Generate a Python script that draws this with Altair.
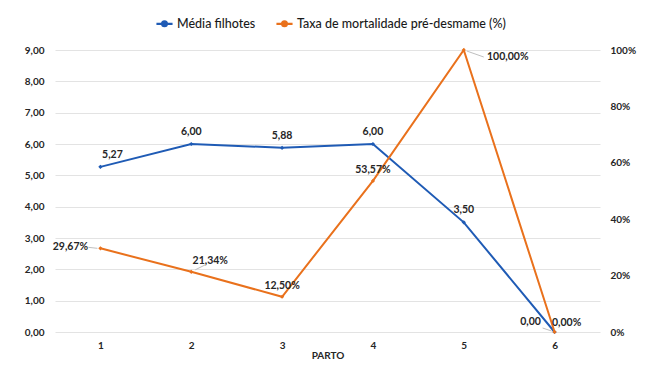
import altair as alt
import pandas as pd

partos = ["1", "2", "3", "4", "5", "6"]
media_filhotes = [5.27, 6.00, 5.88, 6.00, 3.50, 0.00]
mortalidade = [0.2967, 0.2134, 0.1250, 0.5357, 1.0000, 0.0000]
series = ["Média filhotes", "Taxa de mortalidade pré-desmame (%)"]
colors = ["#1F5BB5", "#E9711C"]
left_ticks = [0, 1, 2, 3, 4, 5, 6, 7, 8, 9]
right_ticks = [0, 0.2, 0.4, 0.6, 0.8, 1.0]

FONT = "Lato"
TXT = "#262626"

df_a = pd.DataFrame({"parto": partos, "v": media_filhotes, "serie": series[0]})
df_b = pd.DataFrame({"parto": partos, "v": mortalidade, "serie": series[1]})

x = alt.X("parto:O", sort=partos,
          scale=alt.Scale(type="point", padding=0.5),
          axis=alt.Axis(title="PARTO", labelAngle=0, domain=False, ticks=False,
                        labelPadding=8, titlePadding=0, labelFontSize=10,
                        titleFontSize=10, labelFontWeight="bold", titleFontWeight="bold",
                        labelColor=TXT, titleColor=TXT, labelFont=FONT, titleFont=FONT))
color = alt.Color("serie:N", scale=alt.Scale(domain=series, range=colors),
                  legend=alt.Legend(title=None, orient="none", direction="horizontal",
                                    legendX=100, legendY=-36, labelLimit=400,
                                    symbolType="M-1,0H1M-0.3,0A0.3,0.3,0,1,1,0.3,0A0.3,0.3,0,1,1,-0.3,0Z",
                                    symbolSize=260, symbolStrokeWidth=2.2,
                                    labelFont=FONT, labelFontSize=12.5, labelColor="#1A1A1A",
                                    labelFontWeight=500, columnPadding=16,
                                    symbolOffset=0, labelOffset=3))

ya = alt.Y("v:Q", scale=alt.Scale(domain=[0, 9], nice=False),
           axis=alt.Axis(title=None, values=left_ticks, domain=False, ticks=False,
                         labelExpr="replace(format(datum.value, '.2f'), '.', ',')",
                         labelPadding=11, gridColor="#E3E3E3", labelFontSize=10,
                         labelFontWeight="bold", labelColor=TXT, labelFont=FONT))
yb = alt.Y("v:Q", scale=alt.Scale(domain=[0, 1], nice=False),
           axis=alt.Axis(title=None, values=right_ticks, orient="right", domain=False,
                         ticks=False, grid=False, format=".0%", labelPadding=10,
                         labelFontSize=10, labelFontWeight="bold", labelColor=TXT,
                         labelFont=FONT))

base_a = alt.Chart(df_a).transform_calculate(
    lbl="replace(format(datum.v, '.2f'), '.', ',')")
base_b = alt.Chart(df_b).transform_calculate(
    lbl="replace(format(datum.v * 100, '.2f'), '.', ',') + '%'")

def txt(base, y, parts, **kw):
    return base.transform_filter(
        alt.FieldOneOfPredicate(field="parto", oneOf=parts)
    ).mark_text(font=FONT, fontSize=10.5, fontWeight="bold", color=TXT, **kw).encode(
        x=x, y=y, text="lbl:N")

def leader(base, y, part, dx1, dy1, dx2, dy2):
    return base.transform_filter(alt.datum.parto == part).mark_rule(
        color="#BFBFBF", strokeWidth=1, xOffset=dx1, yOffset=dy1,
        x2Offset=dx2, y2Offset=dy2).encode(x=x, x2="parto:O", y=y, y2="v:Q")

line_a = base_a.mark_line(strokeWidth=2).encode(x=x, y=ya, color=color)
pts_a = base_a.mark_point(filled=True, size=18, opacity=1, shape="diamond").encode(x=x, y=ya, color=color)
lab_a = alt.layer(
    leader(base_a, ya, "6", -12, -4, -3, -1),
    txt(base_a, ya, ["1"], dx=12, dy=-12),
    txt(base_a, ya, ["2", "3", "4", "5"], dy=-12),
    txt(base_a, ya, ["6"], dx=-24, dy=-10),
)

line_b = base_b.mark_line(strokeWidth=2).encode(x=x, y=yb, color=color)
pts_b = base_b.mark_point(filled=True, size=18, opacity=1, shape="diamond").encode(x=x, y=yb, color=color)
lab_b = alt.layer(
    leader(base_b, yb, "1", -12, -1, -3, 0),
    leader(base_b, yb, "2", 4, -2, 14, -7),
    leader(base_b, yb, "5", 3, 1, 20, 7),
    txt(base_b, yb, ["1"], dx=-30, dy=-1),
    txt(base_b, yb, ["2"], dx=19, dy=-11),
    txt(base_b, yb, ["3", "4"], dy=-11),
    txt(base_b, yb, ["5"], dx=44, dy=7),
    txt(base_b, yb, ["6"], dx=12, dy=-9),
)

left = alt.layer(line_a, pts_a, lab_a)
right = alt.layer(line_b, pts_b, lab_b)

chart = alt.layer(left, right).resolve_scale(y="independent").properties(
    width=545, height=282,
    autosize=alt.AutoSizeParams(type="none"),
    padding={"left": 47, "top": 42, "right": 47, "bottom": 32},
    background="white",
).configure_view(stroke=None)

chart.save("out.html", embed_options={"renderer": "svg", "actions": False})
